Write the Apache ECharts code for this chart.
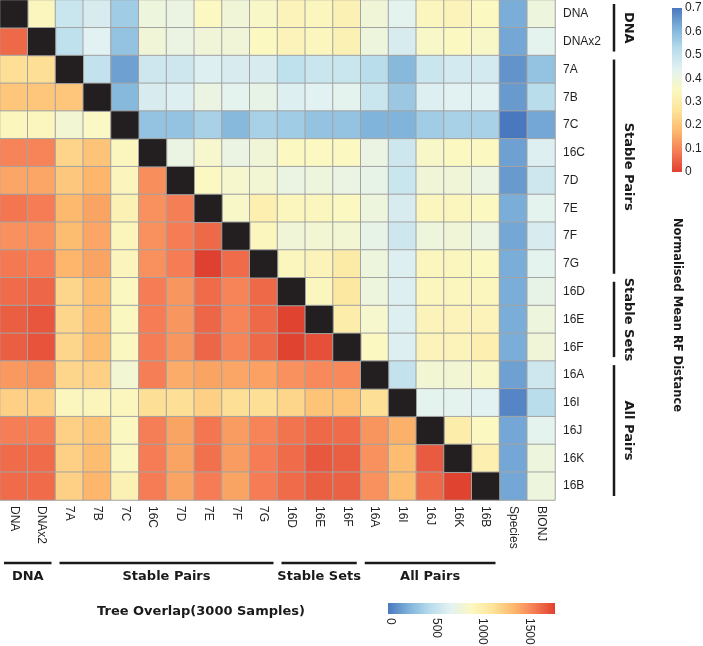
<!DOCTYPE html>
<html>
<head>
<meta charset="utf-8">
<script src="https://cdn.jsdelivr.net/npm/echarts@6/dist/echarts.min.js"></script>
<style>html,body{margin:0;padding:0;background:#fff}#c{width:703px;height:646px}</style>
</head>
<body>
<div id="c"></div>
<script>
// ---------- data ----------
const rowLabels = ['DNA','DNAx2','7A','7B','7C','16C','7D','7E','7F','7G','16D','16E','16F','16A','16I','16J','16K','16B'];
const extraCols = ['Species','BIONJ'];
const colLabels = rowLabels.concat(extraCols);

// lower triangle: tree overlap (row r, columns 0..r-1)
const overlapLower = [
  [],
  [1650],
  [1150, 1150],
  [1280, 1280, 1280],
  [920, 920, 820, 890],
  [1550, 1550, 1210, 1290, 920],
  [1420, 1420, 1270, 1360, 930, 1510],
  [1600, 1580, 1350, 1430, 980, 1500, 1570],
  [1500, 1500, 1330, 1420, 940, 1500, 1580, 1650],
  [1590, 1580, 1360, 1430, 930, 1500, 1580, 1800, 1640],
  [1640, 1660, 1200, 1330, 910, 1580, 1480, 1640, 1550, 1650],
  [1690, 1720, 1200, 1330, 910, 1580, 1480, 1660, 1550, 1650, 1790],
  [1690, 1730, 1200, 1330, 910, 1580, 1480, 1660, 1550, 1650, 1790, 1740],
  [1470, 1490, 1200, 1230, 820, 1570, 1400, 1430, 1420, 1440, 1500, 1530, 1530],
  [1230, 1230, 920, 940, 920, 1150, 1150, 1230, 1150, 1150, 1200, 1300, 1300, 1150],
  [1570, 1570, 1230, 1300, 910, 1570, 1430, 1600, 1460, 1550, 1610, 1650, 1640, 1490, 1380],
  [1640, 1640, 1230, 1330, 910, 1580, 1430, 1620, 1460, 1580, 1640, 1710, 1690, 1500, 1330, 1700],
  [1640, 1640, 1230, 1360, 980, 1580, 1430, 1580, 1430, 1580, 1640, 1690, 1680, 1500, 1330, 1650, 1790]
];

// upper triangle: normalised mean RF distance (row r, columns r+1..17)
const rfUpper = [
  [0.34, 0.49, 0.46, 0.56, 0.40, 0.41, 0.35, 0.39, 0.36, 0.33, 0.34, 0.32, 0.39, 0.43, 0.34, 0.33, 0.35],
  [0.51, 0.44, 0.58, 0.39, 0.41, 0.39, 0.39, 0.35, 0.33, 0.34, 0.32, 0.40, 0.46, 0.36, 0.35, 0.36],
  [0.50, 0.64, 0.48, 0.48, 0.45, 0.46, 0.46, 0.51, 0.49, 0.49, 0.52, 0.60, 0.49, 0.47, 0.47],
  [0.60, 0.46, 0.45, 0.41, 0.43, 0.42, 0.45, 0.44, 0.43, 0.49, 0.57, 0.45, 0.44, 0.44],
  [0.58, 0.58, 0.55, 0.60, 0.55, 0.56, 0.58, 0.58, 0.61, 0.61, 0.56, 0.55, 0.55],
  [0.41, 0.37, 0.41, 0.39, 0.35, 0.35, 0.35, 0.41, 0.48, 0.36, 0.35, 0.35],
  [0.35, 0.37, 0.38, 0.41, 0.40, 0.41, 0.42, 0.49, 0.39, 0.39, 0.41],
  [0.36, 0.31, 0.34, 0.34, 0.35, 0.40, 0.46, 0.34, 0.34, 0.35],
  [0.34, 0.39, 0.38, 0.38, 0.42, 0.48, 0.40, 0.39, 0.41],
  [0.34, 0.33, 0.29, 0.40, 0.45, 0.34, 0.34, 0.35],
  [0.34, 0.28, 0.40, 0.45, 0.34, 0.34, 0.34],
  [0.30, 0.37, 0.45, 0.33, 0.33, 0.33],
  [0.35, 0.45, 0.33, 0.33, 0.31],
  [0.50, 0.38, 0.38, 0.36],
  [0.43, 0.43, 0.44],
  [0.30, 0.35],
  [0.31],
  []
];
const rfSpecies = [0.62, 0.63, 0.66, 0.65, 0.70, 0.64, 0.65, 0.62, 0.63, 0.62, 0.62, 0.62, 0.62, 0.64, 0.68, 0.63, 0.63, 0.63];
const rfBIONJ   = [0.40, 0.43, 0.58, 0.52, 0.63, 0.45, 0.48, 0.43, 0.46, 0.43, 0.42, 0.40, 0.39, 0.48, 0.52, 0.43, 0.40, 0.40];

const groupNames = ['DNA', 'Stable Pairs', 'Stable Sets', 'All Pairs'];
const groupFirst = [0, 2, 10, 13];
const groupLast  = [1, 9, 12, 17];

const rfTicks = [0, 0.1, 0.2, 0.3, 0.4, 0.5, 0.6, 0.7];
const overlapTicks = [0, 500, 1000, 1500];
const rfMax = 0.7, overlapMax = 1800;

// ---------- build ----------
const blueToRed = ['#4a78bf','#7fb3da','#b8dcec','#e3f2f2','#fbf8c2','#fde49a','#fdb96d','#f57d55','#e0402f'];
const redToBlue = blueToRed.slice().reverse();

const lowerData = [], upperData = [], diagData = [];
overlapLower.forEach((row, r) => row.forEach((v, c) => lowerData.push([c, r, v])));
rfUpper.forEach((row, r) => row.forEach((v, k) => upperData.push([r + 1 + k, r, v])));
rfSpecies.forEach((v, r) => upperData.push([18, r, v]));
rfBIONJ.forEach((v, r) => upperData.push([19, r, v]));
rowLabels.forEach((_, r) => diagData.push({value: [r, r, 0], itemStyle: {color: '#231f20'}}));

const FONT = "'Liberation Sans', Arial, sans-serif";
const BOLD = "'DejaVu Sans', Verdana, sans-serif";
const cellStyle = {borderColor: '#a3a3a3', borderWidth: 1};

const chart = echarts.init(document.getElementById('c'), null, {renderer: 'canvas'});
chart.setOption({
  animation: false,
  grid: {left: 0, top: 0, width: 555, height: 500},
  xAxis: {
    type: 'category', data: colLabels, position: 'bottom',
    axisLine: {show: false}, axisTick: {show: false}, splitLine: {show: false},
    axisLabel: {rotate: -90, interval: 0, margin: 6, fontSize: 12, fontFamily: FONT, color: '#231f20'}
  },
  yAxis: {
    type: 'category', data: rowLabels, inverse: true, position: 'right',
    axisLine: {show: false}, axisTick: {show: false}, splitLine: {show: false},
    axisLabel: {interval: 0, margin: 8, fontSize: 12, fontFamily: FONT, color: '#231f20'}
  },
  visualMap: [
    {type: 'continuous', show: false, min: 0, max: overlapMax, seriesIndex: 0, inRange: {color: blueToRed}},
    {type: 'continuous', show: false, min: 0, max: rfMax, seriesIndex: 1, inRange: {color: redToBlue}}
  ],
  series: [
    {type: 'heatmap', data: lowerData, itemStyle: cellStyle, emphasis: {disabled: true}},
    {type: 'heatmap', data: upperData, itemStyle: cellStyle, emphasis: {disabled: true}},
    {type: 'heatmap', data: diagData, itemStyle: cellStyle, emphasis: {disabled: true}}
  ]
});

// ---------- annotations positioned via the chart's own scales ----------
function px(c, r) { return chart.convertToPixel({gridIndex: 0}, [c, r]); }
const p00 = px(0, 0), p11 = px(1, 1);
const cw = p11[0] - p00[0], ch = p11[1] - p00[1];
const gridRight = px(19, 0)[0] + cw / 2, gridBottom = px(0, 17)[1] + ch / 2;

const g = [];
const lineStyle = {stroke: '#1a1a1a', lineWidth: 2.5};
groupNames.forEach((name, i) => {
  // bottom brackets (columns)
  const x1 = px(groupFirst[i], 0)[0] - cw / 2 + 4;
  const x2 = px(groupLast[i], 0)[0] + cw / 2 - 4;
  g.push({type: 'line', shape: {x1: x1, y1: 563, x2: x2, y2: 563}, style: lineStyle});
  g.push({type: 'text', x: (x1 + x2) / 2, y: 577,
    style: {text: name, font: 'bold 13px ' + BOLD, fill: '#1a1a1a', align: 'center', verticalAlign: 'middle'}});
  // right brackets (rows)
  const y1 = px(0, groupFirst[i])[1] - ch / 2 + 4;
  const y2 = px(0, groupLast[i])[1] + ch / 2 - 4;
  g.push({type: 'line', shape: {x1: 614, y1: y1, x2: 614, y2: y2}, style: lineStyle});
  g.push({type: 'text', x: 628, y: (y1 + y2) / 2, rotation: -Math.PI / 2,
    style: {text: name, font: 'bold 13px ' + BOLD, fill: '#1a1a1a', align: 'center', verticalAlign: 'middle'}});
});

// vertical RF legend
const vTop = 8, vBot = 172, vX = 672, vW = 10;
g.push({type: 'rect', shape: {x: vX, y: vTop, width: vW, height: vBot - vTop},
  style: {fill: new echarts.graphic.LinearGradient(0, 1, 0, 0,
    redToBlue.map((c, i) => ({offset: i / (redToBlue.length - 1), color: c})))}});
rfTicks.forEach(v => g.push({type: 'text', x: vX + vW + 3, y: vBot - v / rfMax * (vBot - vTop),
  style: {text: String(v), font: '12px ' + FONT, fill: '#231f20', align: 'left', verticalAlign: 'middle'}}));
g.push({type: 'text', x: 677, y: 315, rotation: -Math.PI / 2,
  style: {text: 'Normalised Mean RF Distance', font: 'bold 11.5px ' + BOLD, fill: '#1a1a1a', align: 'center', verticalAlign: 'middle'}});

// horizontal overlap legend
const hL = 388, hR = gridRight, hY = 603, hH = 11;
g.push({type: 'rect', shape: {x: hL, y: hY, width: hR - hL, height: hH},
  style: {fill: new echarts.graphic.LinearGradient(0, 0, 1, 0,
    blueToRed.map((c, i) => ({offset: i / (blueToRed.length - 1), color: c})))}});
overlapTicks.forEach(v => g.push({type: 'text', x: hL + 2 + v / overlapMax * (hR - hL), y: hY + hH + 4, rotation: -Math.PI / 2,
  style: {text: String(v), font: '12px ' + FONT, fill: '#231f20', align: 'left', verticalAlign: 'middle'}}));
g.push({type: 'text', x: 201, y: 612,
  style: {text: 'Tree Overlap(3000 Samples)', font: 'bold 13px ' + BOLD, fill: '#1a1a1a', align: 'center', verticalAlign: 'middle'}});

chart.setOption({graphic: g});
</script>
</body>
</html>
